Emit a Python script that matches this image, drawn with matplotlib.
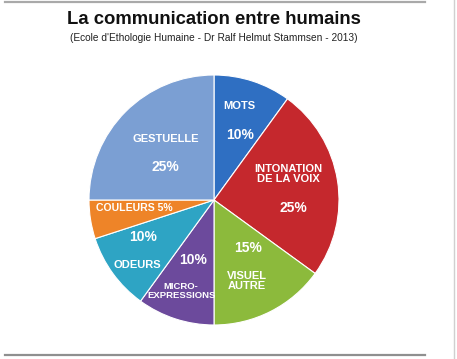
import numpy as np
import matplotlib
matplotlib.use('Agg')
import matplotlib.pyplot as plt
from matplotlib.lines import Line2D

plt.rcParams['font.family'] = ['Liberation Sans', 'DejaVu Sans']

# data
labels = ['MOTS', 'INTONATION\nDE LA VOIX', 'VISUEL\nAUTRE', 'MICRO-\nEXPRESSIONS',
          'ODEURS', 'COULEURS', 'GESTUELLE']
values = [10, 25, 15, 10, 10, 5, 25]
colors = ['#2f6fc2', '#c5282d', '#8cba3c', '#6c4a9c', '#2ea4c4', '#ee8428', '#7b9fd3']

# label layout: (radius fraction, angle) for name and percent
name_r = [0.778, 0.63, 0.703, 0.774, 0.806, 0.643, 0.621]
name_a = [75.1, 18.9, -68.0, -109.9, -139.8, -174.3, 128.2]
pct_r = [0.56, 0.635, 0.47, 0.509, 0.64, None, 0.473]
pct_a = [68.2, -5.8, -54.7, -109.3, -152.5, None, 146.0]
name_size = [8, 8, 8, 6.8, 8, 7.6, 8]

W, H = 457, 359
fig = plt.figure(figsize=(W / 100, H / 100), dpi=100)
fig.patch.set_facecolor('white')

# card border
fig.add_artist(Line2D([5 / W, 425 / W], [1 - 2 / H, 1 - 2 / H], color='#a9a9a9', lw=1.6))
fig.add_artist(Line2D([5 / W, 425 / W], [1 - 355 / H, 1 - 355 / H], color='#8f8f8f', lw=1.6))
fig.add_artist(Line2D([454 / W, 454 / W], [0, 1], color='#d0d0d0', lw=1.0))

fig.text(214 / W, 1 - 20 / H, 'La communication entre humains', ha='center', va='center',
         fontsize=13.3, fontweight='bold', color='#111111')
fig.text(214 / W, 1 - 38 / H, "(Ecole d'Ethologie Humaine - Dr Ralf Helmut Stammsen - 2013)",
         ha='center', va='center', fontsize=7.3, color='#222222')

cx, cy, r = 214, 200, 125
ax = fig.add_axes([(cx - r) / W, (H - cy - r) / H, 2 * r / W, 2 * r / H])
ax.pie(values, colors=colors, startangle=90, counterclock=False, radius=1,
       wedgeprops=dict(edgecolor='white', linewidth=0.8))
ax.set_xlim(-1, 1)
ax.set_ylim(-1, 1)
ax.set_aspect('equal')
ax.axis('off')

for i, lab in enumerate(labels):
    a = np.radians(name_a[i])
    txt = lab
    if pct_r[i] is None:
        txt = lab + ' ' + str(values[i]) + '%'
    ax.text(name_r[i] * np.cos(a), name_r[i] * np.sin(a), txt, ha='center', va='center',
            color='white', fontsize=name_size[i], fontweight='bold', linespacing=1.0)
    if pct_r[i] is not None:
        b = np.radians(pct_a[i])
        ax.text(pct_r[i] * np.cos(b), pct_r[i] * np.sin(b), str(values[i]) + '%',
                ha='center', va='center', color='white', fontsize=10, fontweight='bold')

fig.savefig('out.png', dpi=100)
